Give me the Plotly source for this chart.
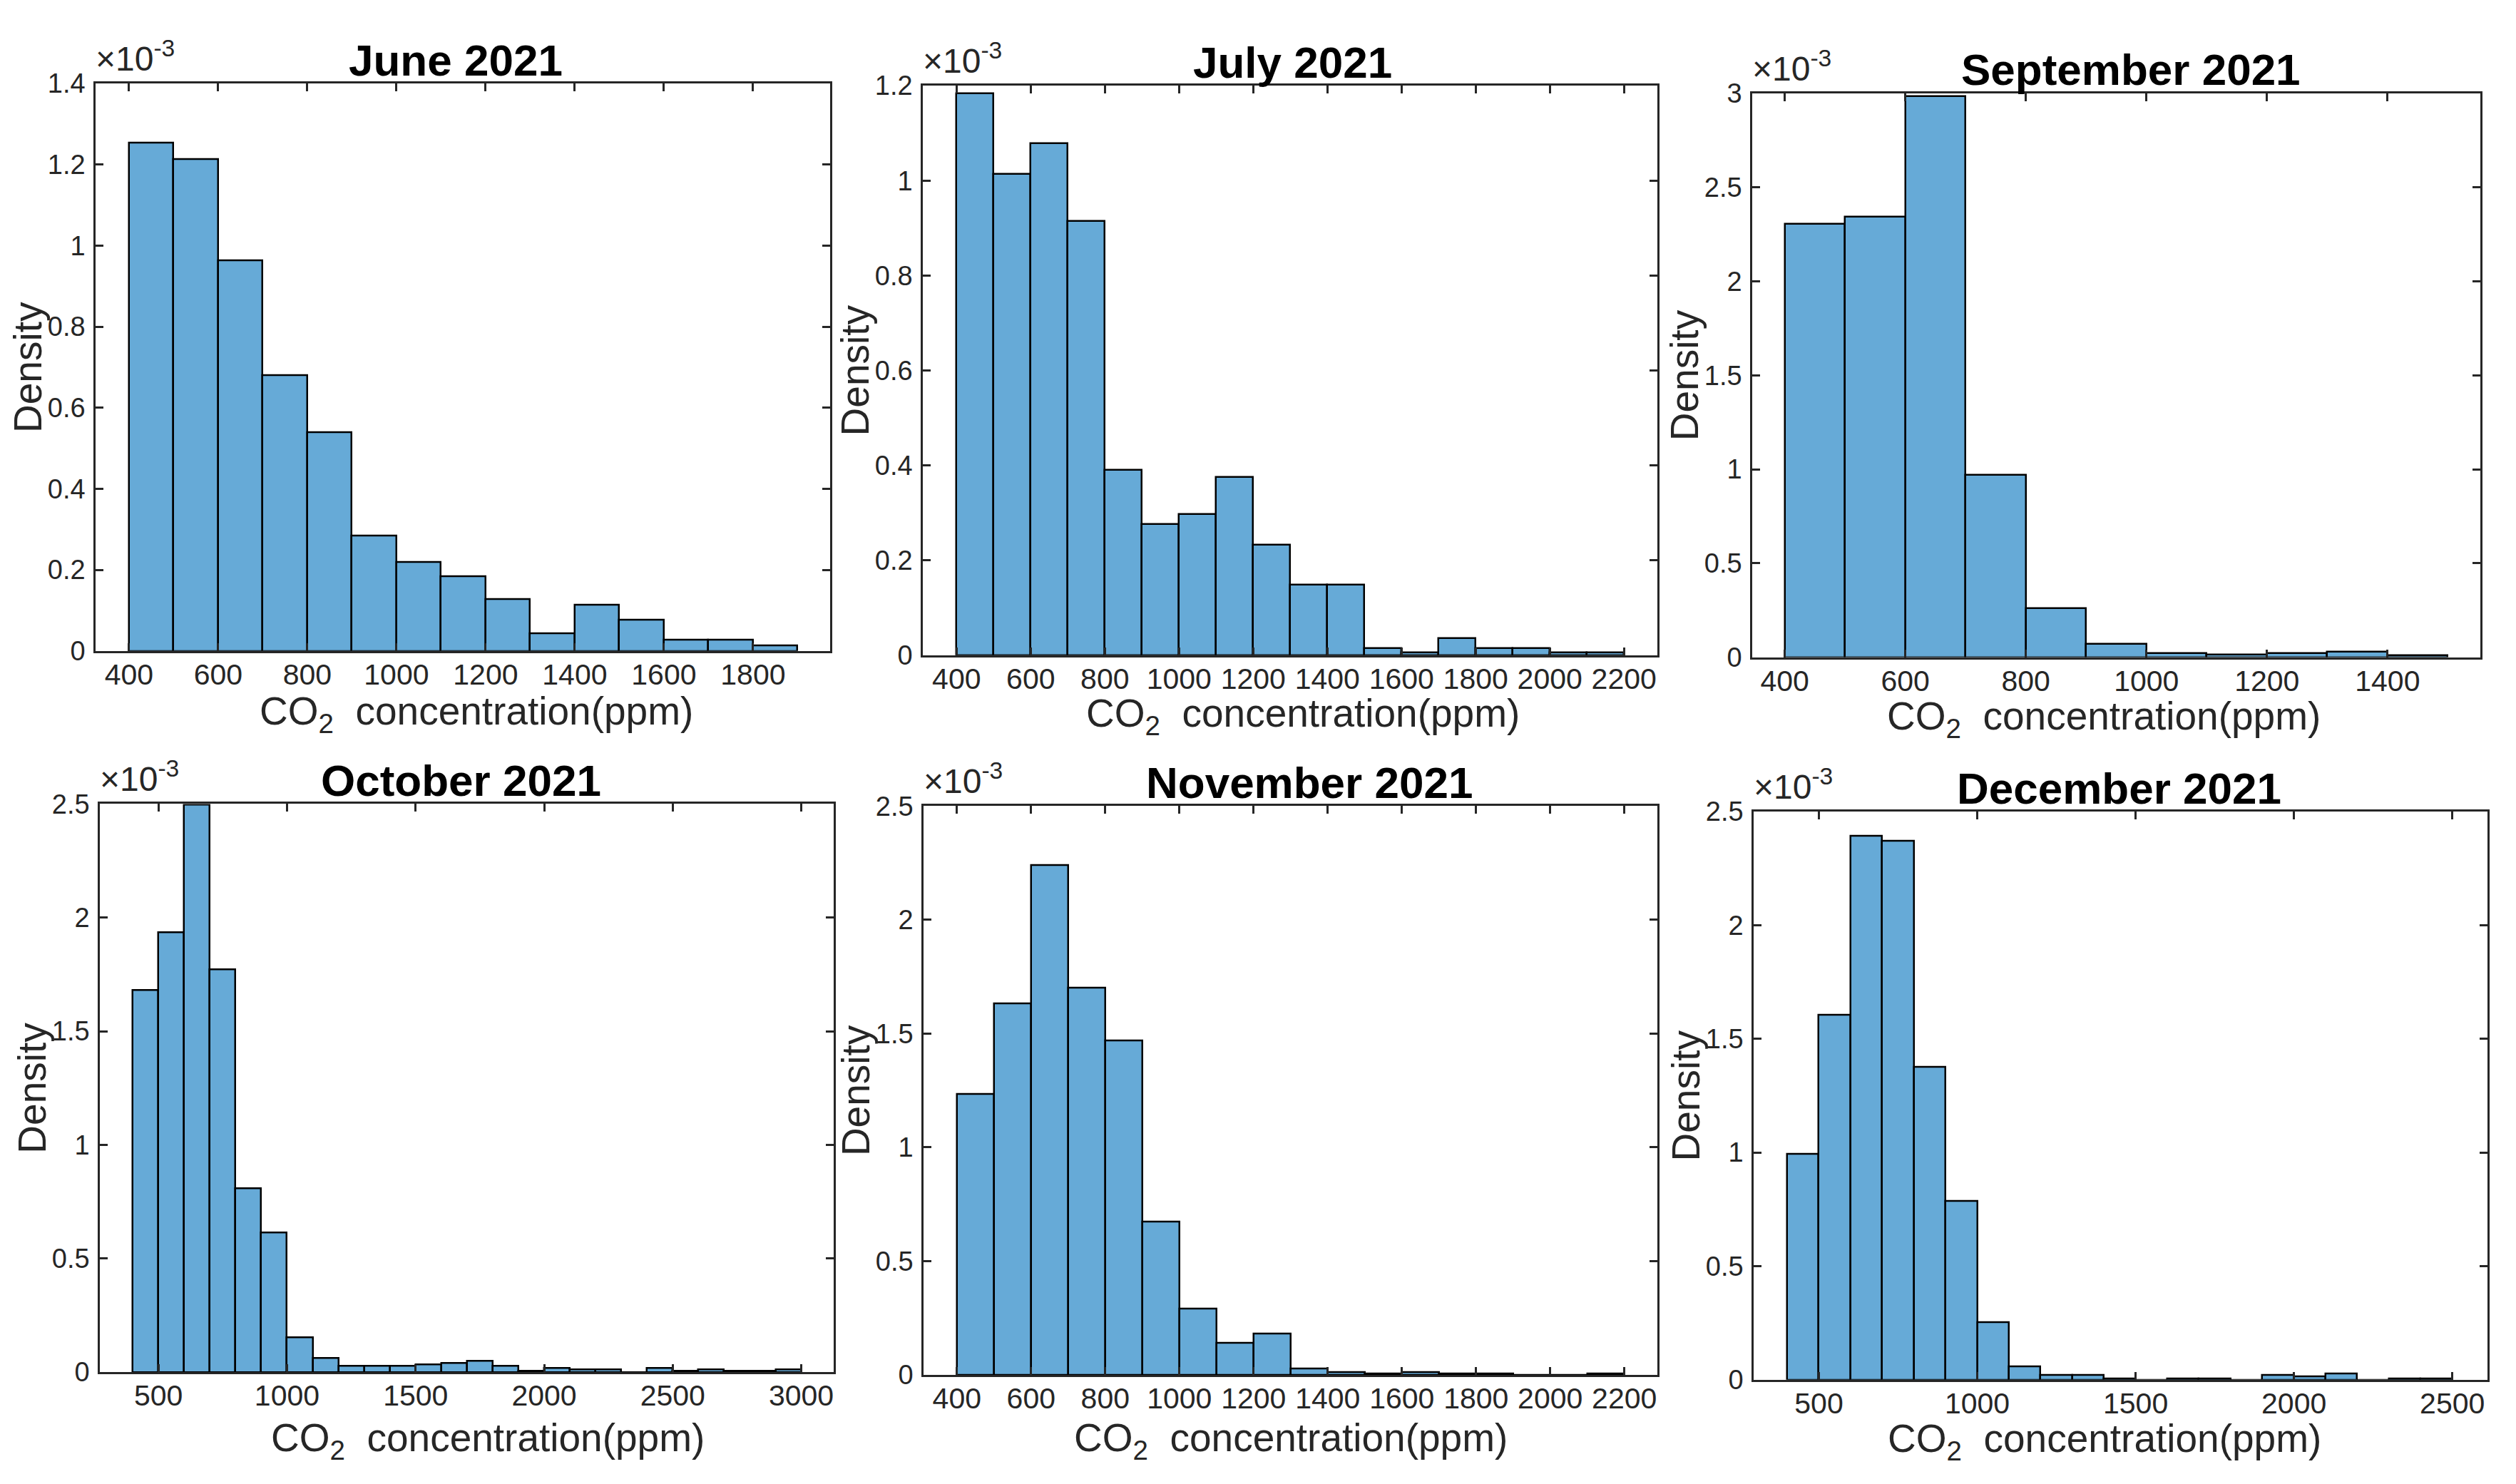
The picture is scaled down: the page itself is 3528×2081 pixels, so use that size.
import plotly.graph_objects as go

# ---------------- data (density in units of 1e-3 per ppm) ----------------
BIN_WIDTH = 100

titles = ["June 2021", "July 2021", "September 2021",
          "October 2021", "November 2021", "December 2021"]

june_bin_starts = list(range(400, 1900, 100))
june_density = [1.254, 1.213, 0.963, 0.681, 0.539, 0.284, 0.220, 0.184,
                0.128, 0.043, 0.113, 0.076, 0.027, 0.027, 0.013]

july_bin_starts = list(range(400, 2200, 100))
july_density = [1.184, 1.014, 1.078, 0.915, 0.390, 0.276, 0.297, 0.375,
                0.233, 0.148, 0.148, 0.014, 0.006, 0.035, 0.014, 0.014,
                0.006, 0.006]

sept_bin_starts = list(range(400, 1500, 100))
sept_density = [2.307, 2.344, 2.983, 0.972, 0.262, 0.072, 0.022, 0.015,
                0.020, 0.030, 0.010]

oct_bin_starts = list(range(400, 3000, 100))
oct_density = [1.681, 1.934, 2.498, 1.773, 0.809, 0.615, 0.153, 0.061,
               0.027, 0.027, 0.027, 0.033, 0.041, 0.049, 0.027, 0.006,
               0.018, 0.012, 0.012, 0.0, 0.018, 0.006, 0.012, 0.006,
               0.006, 0.012]

nov_bin_starts = list(range(400, 2200, 100))
nov_density = [1.234, 1.632, 2.241, 1.701, 1.469, 0.672, 0.290, 0.139,
               0.180, 0.027, 0.012, 0.006, 0.012, 0.006, 0.006, 0.0,
               0.0, 0.006]

dec_bin_starts = list(range(400, 2500, 100))
dec_density = [0.993, 1.605, 2.392, 2.371, 1.377, 0.786, 0.253, 0.057,
               0.020, 0.020, 0.006, 0.0, 0.006, 0.006, 0.0, 0.020,
               0.014, 0.027, 0.0, 0.006, 0.006]

# axis ranges and ticks
x_ranges = [[325, 1973], [309, 2290], [346, 1554],
            [272, 3126], [310, 2289], [294, 2611]]
x_tick0 = [400, 400, 400, 500, 400, 500]
x_dtick = [200, 200, 200, 500, 200, 500]
y_tops = [1.4, 1.2, 3.0, 2.5, 2.5, 2.5]
y_dtick = [0.2, 0.2, 0.5, 0.5, 0.5, 0.5]

bin_starts = [june_bin_starts, july_bin_starts, sept_bin_starts,
              oct_bin_starts, nov_bin_starts, dec_bin_starts]
densities = [june_density, july_density, sept_density,
             oct_density, nov_density, dec_density]

# ---------------- layout geometry (pixels in a 3528 x 2081 canvas) --------
W, H = 3528, 2081
# (left, right, top, bottom) of each axes box
boxes = [(126, 1156, 90, 902), (1286, 2316, 93, 908), (2449, 3470, 104, 911),
         (132, 1161, 1121, 1934), (1287, 2316, 1124, 1938), (2451, 3480, 1132, 1945)]
title_dx = [-10, 3, 20, -8, 26, -2]
xlabel_dx = [19, 18, -18, 29, 0, -23]
xlabel_dy = [88, 85, 86, 96, 92, 86]

FONT = "Liberation Sans, Arial, Helvetica, sans-serif"
AX_COLOR = "#262626"
BAR_COLOR = "#66AAD7"

fig = go.Figure()
layout = dict(
    width=W, height=H,
    margin=dict(l=0, r=0, t=0, b=0),
    paper_bgcolor="white", plot_bgcolor="white",
    showlegend=False, bargap=0,
    font=dict(family=FONT, color=AX_COLOR),
)
annotations = []

for i in range(6):
    n = "" if i == 0 else str(i + 1)
    xs = [s + BIN_WIDTH / 2 for s in bin_starts[i]]
    fig.add_trace(go.Bar(
        x=xs, y=densities[i], width=BIN_WIDTH,
        marker=dict(color=BAR_COLOR, line=dict(color="black", width=2.5)),
        xaxis="x" + n, yaxis="y" + n, hoverinfo="x+y",
    ))
    l, r, t, b = boxes[i]
    common = dict(showline=True, linecolor=AX_COLOR, linewidth=2.5,
                  mirror="ticks", ticks="inside", ticklen=11, tickwidth=2.5,
                  tickcolor=AX_COLOR, showgrid=False, zeroline=False)
    layout["xaxis" + n] = dict(common, domain=[l / W, r / W], anchor="y" + n,
                               range=x_ranges[i], tick0=x_tick0[i], dtick=x_dtick[i],
                               tickangle=0, ticklabelstandoff=-5,
                               tickfont=dict(family=FONT, size=41, color=AX_COLOR))
    layout["yaxis" + n] = dict(common, domain=[1 - b / H, 1 - t / H], anchor="x" + n,
                               range=[0, y_tops[i]], tick0=0, dtick=y_dtick[i],
                               ticklabelstandoff=4,
                               tickfont=dict(family=FONT, size=38, color=AX_COLOR))
    xd, yd = "x" + n + " domain", "y" + n + " domain"
    annotations += [
        dict(text="<b>" + titles[i] + "</b>", xref=xd, yref=yd, x=0.5, y=1,
             xanchor="center", yanchor="middle", yshift=33, xshift=title_dx[i],
             showarrow=False, font=dict(family=FONT, size=62, color="black")),
        dict(text="\u00d710<sup>-3</sup>", xref=xd, yref=yd, x=0, y=1,
             xanchor="left", yanchor="bottom", yshift=6, xshift=-2, showarrow=False,
             font=dict(family=FONT, size=48, color=AX_COLOR)),
        dict(text="Density", xref=xd, yref=yd, x=0, y=0.5, textangle=-90,
             xanchor="center", yanchor="middle", xshift=-95, showarrow=False,
             font=dict(family=FONT, size=55, color=AX_COLOR)),
        dict(text="CO<sub>2</sub>\u00a0\u00a0concentration(ppm)", xref=xd, yref=yd,
             x=0.5, y=0, xanchor="center", yanchor="middle", yshift=-xlabel_dy[i],
             xshift=xlabel_dx[i],
             showarrow=False, font=dict(family=FONT, size=55, color=AX_COLOR)),
    ]

layout["annotations"] = annotations
fig.update_layout(**layout)
fig.write_html("out.html")
